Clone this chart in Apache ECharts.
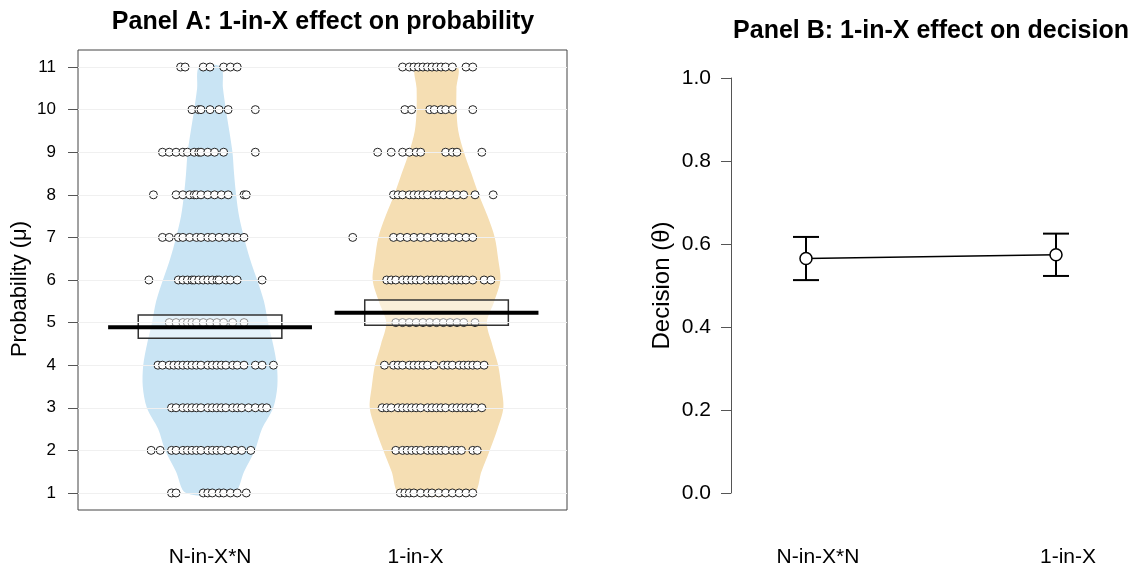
<!DOCTYPE html>
<html>
<head>
<meta charset="utf-8">
<script src="https://cdn.jsdelivr.net/npm/echarts@6/dist/echarts.min.js"></script>
<style>
  html, body { margin: 0; background: #fff; }
  #main { width: 1132px; height: 570px; }
</style>
</head>
<body>
<div id="main"></div>
<script>
// categories and their x positions on both panels
var groups = ["N-in-X*N", "1-in-X"];
var groupPos = [1, 2];

// panel A: response levels (y ticks)
var probTicks = [1, 2, 3, 4, 5, 6, 7, 8, 9, 10, 11];

// violin outline: half width (x units) read at each level
var violinLevels = [1, 1.5, 2, 2.5, 3, 3.5, 4, 4.5, 5, 5.5, 6, 6.5, 7, 7.5, 8, 8.5, 9, 9.5, 10, 10.5, 11];
var nxnHalfWidth = [0.106, 0.150, 0.198, 0.229, 0.279, 0.297, 0.295, 0.278, 0.256, 0.238, 0.208,
                    0.176, 0.150, 0.128, 0.115, 0.106, 0.099, 0.085, 0.070, 0.057, 0.048];
var oneHalfWidth = [0.163, 0.198, 0.235, 0.269, 0.295, 0.286, 0.272, 0.245, 0.222, 0.255, 0.282,
                    0.272, 0.257, 0.225, 0.187, 0.154, 0.121, 0.096, 0.088, 0.088, 0.091];

// jittered responses: x position of each circle, one list per level 1..11
var nxnPoints = [
  [0.83, 0.85, 0.97, 0.99, 1.01, 1.04, 1.06, 1.09, 1.12, 1.16],
  [0.74, 0.78, 0.83, 0.85, 0.88, 0.90, 0.92, 0.94, 0.96, 0.99, 1.01, 1.03, 1.05, 1.08, 1.11, 1.14, 1.18],
  [0.83, 0.85, 0.88, 0.90, 0.92, 0.94, 0.96, 0.99, 1.01, 1.03, 1.05, 1.07, 1.10, 1.12, 1.14, 1.17, 1.20, 1.23, 1.25],
  [0.77, 0.79, 0.82, 0.84, 0.86, 0.88, 0.90, 0.92, 0.94, 0.96, 0.99, 1.01, 1.03, 1.05, 1.07, 1.10, 1.12, 1.15, 1.20, 1.23, 1.28],
  [0.82, 0.85, 0.88, 0.90, 0.92, 0.94, 0.97, 1.00, 1.03, 1.06, 1.10, 1.15],
  [0.73, 0.86, 0.88, 0.90, 0.92, 0.93, 0.95, 0.97, 0.99, 1.01, 1.03, 1.04, 1.07, 1.09, 1.12, 1.23],
  [0.79, 0.82, 0.86, 0.88, 0.91, 0.94, 0.96, 0.99, 1.01, 1.04, 1.07, 1.10, 1.12, 1.15],
  [0.75, 0.85, 0.88, 0.91, 0.93, 0.94, 0.96, 0.99, 1.02, 1.05, 1.08, 1.15, 1.16],
  [0.79, 0.82, 0.85, 0.88, 0.90, 0.93, 0.95, 0.96, 0.99, 1.02, 1.06, 1.20],
  [0.92, 0.95, 0.96, 1.00, 1.04, 1.08, 1.20],
  [0.87, 0.89, 0.97, 1.00, 1.06, 1.09, 1.12]
];
var onePoints = [
  [1.84, 1.86, 1.88, 1.90, 1.93, 1.96, 1.98, 2.01, 2.04, 2.07, 2.10, 2.13, 2.16],
  [1.82, 1.85, 1.87, 1.89, 1.91, 1.93, 1.96, 1.98, 2.00, 2.02, 2.04, 2.07, 2.09, 2.11, 2.16, 2.18],
  [1.76, 1.78, 1.80, 1.83, 1.85, 1.87, 1.89, 1.91, 1.93, 1.96, 1.98, 2.00, 2.02, 2.04, 2.07, 2.09, 2.11, 2.13, 2.15, 2.17, 2.20],
  [1.77, 1.81, 1.83, 1.85, 1.88, 1.90, 1.92, 1.94, 1.96, 1.99, 2.03, 2.05, 2.07, 2.10, 2.12, 2.14, 2.16, 2.18, 2.21],
  [1.82, 1.85, 1.88, 1.91, 1.94, 1.97, 2.00, 2.03, 2.06, 2.09, 2.12, 2.17],
  [1.78, 1.80, 1.82, 1.85, 1.87, 1.89, 1.91, 1.93, 1.96, 1.98, 2.00, 2.02, 2.04, 2.07, 2.09, 2.11, 2.13, 2.16, 2.21, 2.24],
  [1.63, 1.81, 1.84, 1.87, 1.90, 1.93, 1.96, 1.99, 2.02, 2.04, 2.07, 2.10, 2.13, 2.16],
  [1.81, 1.83, 1.85, 1.88, 1.90, 1.92, 1.94, 1.96, 1.99, 2.01, 2.03, 2.06, 2.09, 2.12, 2.17, 2.25],
  [1.74, 1.80, 1.85, 1.88, 1.91, 1.93, 2.04, 2.07, 2.09, 2.20],
  [1.86, 1.89, 1.97, 1.99, 2.02, 2.04, 2.07, 2.16],
  [1.85, 1.88, 1.90, 1.92, 1.94, 1.96, 1.98, 2.00, 2.02, 2.04, 2.07, 2.13, 2.16]
];

// posterior mean and interval for probability
var probMean = [4.89, 5.23];
var probLow = [4.63, 4.94];
var probHigh = [5.18, 5.53];

// panel B: decision
var decisionMean = [0.565, 0.574];
var decisionLow = [0.513, 0.523];
var decisionHigh = [0.617, 0.625];

var FONT = "'Liberation Sans', Arial, sans-serif";
var chart = echarts.init(document.getElementById("main"), null, { renderer: "canvas" });

function toScatter(rows) {
  var out = [];
  rows.forEach(function (xs, i) {
    xs.forEach(function (x) { out.push([x, probTicks[i]]); });
  });
  return out;
}

function violin(halfWidth, color) {
  return function (params, api) {
    var c = api.value(0);
    var right = [], left = [];
    violinLevels.forEach(function (y, i) {
      right.push(api.coord([c + halfWidth[i], y]));
      left.unshift(api.coord([c - halfWidth[i], y]));
    });
    return {
      type: "polygon",
      shape: { points: right.concat(left), smooth: 0.3 },
      style: { fill: color }
    };
  };
}

// category labels, each nudged a little as in the original figure
function catLabel(v) {
  return v === groupPos[0] ? "{a|" + groups[0] + "}" : "{b|" + groups[1] + "}";
}

var option = {
  animation: false,
  title: [
    { text: "Panel A: 1-in-X effect on probability", left: 323, top: 10, textAlign: "center", padding: 0,
      textStyle: { fontFamily: FONT, fontSize: 25, fontWeight: "bold", color: "#000" } },
    { text: "Panel B: 1-in-X effect on decision", left: 931, top: 19, textAlign: "center", padding: 0,
      textStyle: { fontFamily: FONT, fontSize: 25, fontWeight: "bold", color: "#000" } }
  ],
  grid: [
    { left: 78, top: 50, width: 489, height: 460, show: true, borderColor: "#444", borderWidth: 1, backgroundColor: "transparent" },
    { left: 731, top: 78, width: 400, height: 415 }
  ],
  xAxis: [
    { gridIndex: 0, type: "value", min: 0.417, max: 2.576,
      axisLine: { show: false }, axisTick: { show: false }, splitLine: { show: false },
      axisLabel: { customValues: groupPos, margin: 37, fontFamily: FONT, color: "#000",
        formatter: catLabel,
        rich: { a: { fontSize: 21, fontFamily: FONT, padding: [0, 0, 0, 0] },
                b: { fontSize: 21, fontFamily: FONT, padding: [0, 42, 0, 0] } } } },
    { gridIndex: 1, type: "value", min: 0.7, max: 2.3,
      axisLine: { show: false }, axisTick: { show: false }, splitLine: { show: false },
      axisLabel: { customValues: groupPos, margin: 54, fontFamily: FONT, color: "#000",
        formatter: catLabel,
        rich: { a: { fontSize: 21, fontFamily: FONT, padding: [0, 0, 0, 24] },
                b: { fontSize: 21, fontFamily: FONT, padding: [0, 0, 0, 24] } } } }
  ],
  yAxis: [
    { gridIndex: 0, type: "value", min: 0.6, max: 11.4,
      name: "Probability (\u03bc)", nameLocation: "middle", nameGap: 47,
      nameTextStyle: { fontFamily: FONT, fontSize: 22, color: "#000", padding: [0, 18, 0, 0] },
      axisLine: { show: false }, splitLine: { show: false },
      axisTick: { show: true, customValues: probTicks, length: 10, lineStyle: { color: "#555" } },
      axisLabel: { customValues: probTicks, margin: 22, fontSize: 17, fontFamily: FONT, color: "#000" } },
    { gridIndex: 1, type: "value", min: 0, max: 1, interval: 0.2,
      name: "Decision (\u03b8)", nameLocation: "middle", nameGap: 57,
      nameTextStyle: { fontFamily: FONT, fontSize: 24, color: "#000" },
      axisLine: { show: true, lineStyle: { color: "#555", width: 1 } }, splitLine: { show: false },
      axisTick: { show: true, length: 10, lineStyle: { color: "#555" } },
      axisLabel: { margin: 20, fontSize: 21, fontFamily: FONT, color: "#000",
        formatter: function (v) { return v.toFixed(1); } } }
  ],
  series: [
    { type: "line", xAxisIndex: 0, yAxisIndex: 0, data: [], z: 0,
      markLine: { silent: true, symbol: "none", label: { show: false },
        lineStyle: { color: "#f0f0f0", type: "solid", width: 1 },
        data: probTicks.map(function (v) { return { yAxis: v }; }) } },
    { type: "custom", xAxisIndex: 0, yAxisIndex: 0, z: 1, data: [[groupPos[0]]],
      renderItem: violin(nxnHalfWidth, "#c9e4f4") },
    { type: "custom", xAxisIndex: 0, yAxisIndex: 0, z: 1, data: [[groupPos[1]]],
      renderItem: violin(oneHalfWidth, "#f5deb3") },
    { type: "scatter", xAxisIndex: 0, yAxisIndex: 0, z: 2, symbol: "circle", symbolSize: 8,
      itemStyle: { color: "#fff", borderColor: "#222", borderWidth: 1, opacity: 1 },
      data: toScatter(nxnPoints).concat(toScatter(onePoints)) },
    { type: "custom", xAxisIndex: 0, yAxisIndex: 0, z: 3,
      data: groupPos.map(function (p, i) { return [p, probMean[i], probLow[i], probHigh[i]]; }),
      renderItem: function (params, api) {
        var c = api.value(0);
        var tl = api.coord([c - 0.317, api.value(3)]);
        var br = api.coord([c + 0.317, api.value(2)]);
        var a = api.coord([c - 0.45, api.value(1)]);
        var b = api.coord([c + 0.45, api.value(1)]);
        return { type: "group", children: [
          { type: "rect", shape: { x: tl[0], y: tl[1], width: br[0] - tl[0], height: br[1] - tl[1] },
            style: { fill: "rgba(255,255,255,0.5)", stroke: "#333", lineWidth: 1.5 } },
          { type: "line", shape: { x1: a[0], y1: a[1], x2: b[0], y2: b[1] },
            style: { stroke: "#000", lineWidth: 4 } }
        ] };
      } },
    { type: "custom", xAxisIndex: 1, yAxisIndex: 1, z: 2,
      data: groupPos.map(function (p, i) { return [p, decisionLow[i], decisionHigh[i]]; }),
      renderItem: function (params, api) {
        var lo = api.coord([api.value(0), api.value(1)]);
        var hi = api.coord([api.value(0), api.value(2)]);
        var cap = 13, st = { stroke: "#000", lineWidth: 2 };
        return { type: "group", children: [
          { type: "line", shape: { x1: lo[0], y1: lo[1], x2: hi[0], y2: hi[1] }, style: st },
          { type: "line", shape: { x1: lo[0] - cap, y1: lo[1], x2: lo[0] + cap, y2: lo[1] }, style: st },
          { type: "line", shape: { x1: hi[0] - cap, y1: hi[1], x2: hi[0] + cap, y2: hi[1] }, style: st }
        ] };
      } },
    { type: "line", xAxisIndex: 1, yAxisIndex: 1, z: 3,
      symbol: "circle", symbolSize: 12, showSymbol: true,
      itemStyle: { color: "#fff", borderColor: "#000", borderWidth: 1.5 },
      lineStyle: { color: "#000", width: 1.5 },
      data: groupPos.map(function (p, i) { return [p, decisionMean[i]]; }) }
  ]
};
chart.setOption(option);
</script>
</body>
</html>
